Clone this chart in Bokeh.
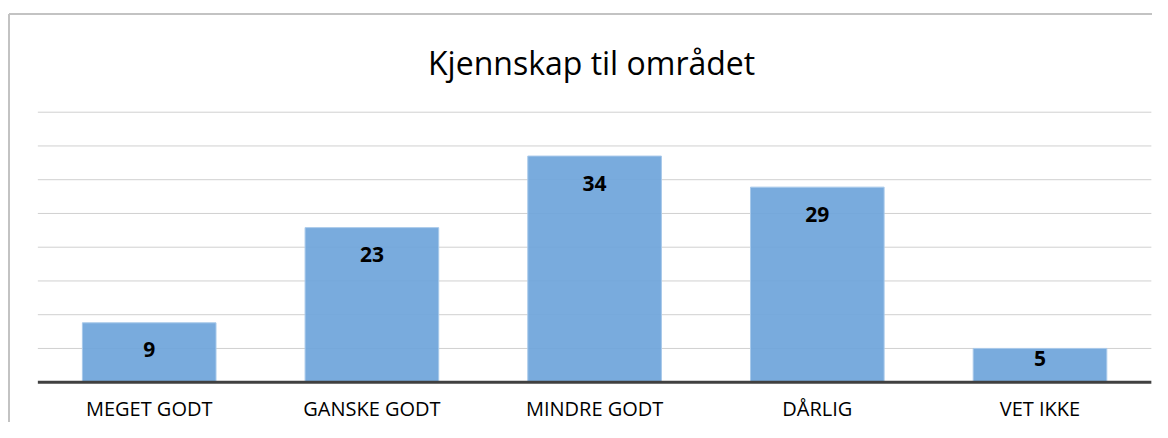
from bokeh.plotting import figure
from bokeh.models import Range1d, ColumnDataSource
from bokeh.core.properties import value
from bokeh.embed import file_html
from bokeh.resources import INLINE

# ---- data ----
title_text = "Kjennskap til området"
categories = ["MEGET GODT", "GANSKE GODT", "MINDRE GODT", "DÅRLIG", "VET IKKE"]
values = [8.8, 22.9, 33.5, 28.9, 5.0]
value_labels = ["9", "23", "34", "29", "5"]
grid_values = [5, 10, 15, 20, 25, 30, 35, 40]

# ---- layout (pixel geometry) ----
W, H = 1152, 422
x_start = -148.7 / 222.7
x_end = x_start + W / 222.7
y_start = -(H - 381.7) / 6.75
y_end = y_start + H / 6.75
upx_x = (x_end - x_start) / W
upx_y = (y_end - y_start) / H

def fx(px):
    return x_start + px * upx_x

def fy(px_from_top):
    return y_start + (H - px_from_top) * upx_y

p = figure(width=W, height=H, output_backend="svg", toolbar_location=None,
           x_range=Range1d(x_start, x_end), y_range=Range1d(y_start, y_end),
           x_axis_type=None, y_axis_type=None,
           min_border=0, min_border_left=0, min_border_right=0,
           min_border_top=0, min_border_bottom=0)
p.outline_line_color = None
p.background_fill_color = "white"
p.border_fill_color = "white"
p.xgrid.visible = False
p.ygrid.visible = False

n = len(categories)
idx = list(range(n))
left_edge = -0.5
right_edge = n - 0.5

# frame border (top and left)
p.segment(x0=[fx(8.5)], y0=[fy(13.5)], x1=[x_end], y1=[fy(13.5)], line_color="#c3c3c3", line_width=2)
p.segment(x0=[fx(8.5)], y0=[fy(13.5)], x1=[fx(8.5)], y1=[y_start], line_color="#c3c3c3", line_width=2)

# gridlines
p.segment(x0=[left_edge] * len(grid_values), y0=grid_values,
          x1=[right_edge] * len(grid_values), y1=grid_values,
          line_color="#d0d0d0", line_width=1)

# bars
src = ColumnDataSource(dict(x=idx, top=values, lab=value_labels, cat=categories,
                            off=[min(27, v / upx_y - 24) for v in values]))
p.vbar(x="x", top="top", bottom=0, width=0.6, source=src,
       fill_color="#6fa5da", fill_alpha=0.93, line_color="#a8c9ea", line_width=1)

# baseline
p.segment(x0=[left_edge], y0=[0], x1=[right_edge], y1=[0], line_color="#404040", line_width=3)

# value labels
p.text(x="x", y="top", text="lab", source=src, y_offset="off",
       text_font=value("Open Sans"), text_font_style="bold", text_font_size="21px",
       text_align="center", text_baseline="middle", text_color="#000000")

# category labels
p.text(x="x", y=0, text="cat", source=src, y_offset=26,
       text_font=value("Open Sans"), text_font_size="20px",
       text_align="center", text_baseline="middle", text_color="#000000")

# title
p.text(x=[(n - 1) / 2], y=[fy(62)], text=[title_text], x_offset=-3,
       text_font=value("Open Sans"), text_font_size="32px",
       text_align="center", text_baseline="alphabetic", text_color="#000000")

open("out.html", "w").write(file_html(p, INLINE))
